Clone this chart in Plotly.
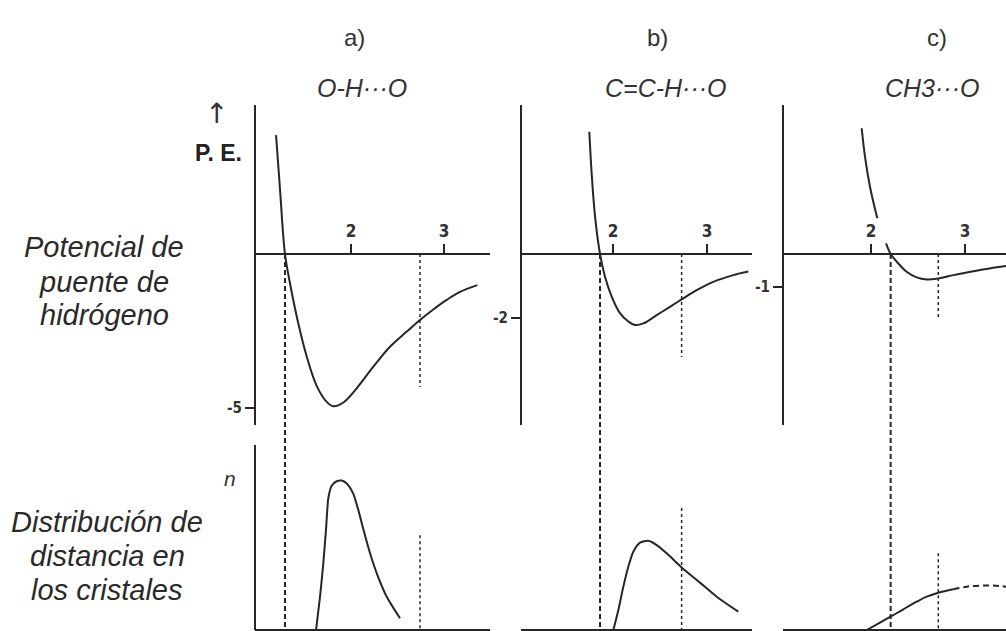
import plotly.graph_objects as go

W, H = 1006, 631

# ---------------- data (distance in Å, energy in kcal/mol, n arbitrary units) -------------
panel_letters = ["a)", "b)", "c)"]
panel_titles = ["O-H\u00b7\u00b7\u00b7O", "C=C-H\u00b7\u00b7\u00b7O", "CH3\u00b7\u00b7\u00b7O"]
xtick_vals = [2, 3]
xtick_text = ["2", "3"]
ytick_vals = [[-5], [-2], [-1]]
ytick_text = [["-5"], ["-2"], ["-1"]]

# potential curves
pot_a_r = [1.194, 1.237, 1.290, 1.344, 1.433, 1.524, 1.631, 1.739, 1.810, 1.918, 2.061,
           2.240, 2.419, 2.599, 2.742, 2.885, 3.029, 3.172, 3.358]
pot_a_e = [3.86, 2.08, 0.0, -0.95, -2.25, -3.33, -4.28, -4.80, -4.94, -4.82, -4.36,
           -3.66, -3.01, -2.52, -2.14, -1.80, -1.49, -1.23, -1.01]

pot_b_r = [1.748, 1.773, 1.809, 1.862, 1.915, 1.986, 2.074, 2.163, 2.234, 2.323, 2.465,
           2.606, 2.730, 2.890, 3.067, 3.280, 3.440]
pot_b_e = [3.82, 2.52, 1.17, 0.0, -0.71, -1.33, -1.85, -2.11, -2.22, -2.17, -1.91,
           -1.65, -1.42, -1.13, -0.87, -0.66, -0.55]

pot_c_r = [1.901, 1.936, 1.989, 2.067, None, 2.160, 2.209, 2.273, 2.379, 2.486, 2.592,
           2.716, 2.876, 3.089, 3.301, 3.436]
pot_c_e = [3.81, 2.95, 2.04, 1.08, None, 0.32, 0.0, -0.23, -0.54, -0.71, -0.77,
           -0.74, -0.64, -0.52, -0.42, -0.36]

# distance distributions in crystals
dist_a_r = [1.624, 1.667, 1.702, 1.731, 1.756, 1.792, 1.846, 1.900, 1.954, 2.025, 2.079,
            2.133, 2.204, 2.276, 2.384, 2.527]
dist_a_n = [0.0, 2.25, 4.5, 6.76, 8.9, 9.75, 10.05, 10.1, 9.9, 9.2, 8.1,
            6.8, 5.2, 3.85, 2.25, 0.79]

dist_b_r = [2.004, 2.057, 2.110, 2.163, 2.216, 2.287, 2.376, 2.465, 2.571, 2.730, 2.926,
            3.103, 3.333]
dist_b_n = [0.0, 1.35, 2.93, 4.28, 5.29, 5.9, 6.03, 5.74, 5.18, 4.23, 3.2,
            2.25, 1.24]

dist_c_r_solid = [1.954, 2.096, 2.209, 2.344, 2.486, 2.592, 2.716, 2.876]
dist_c_n_solid = [0.0, 0.5, 0.9, 1.4, 1.91, 2.25, 2.52, 2.75]
dist_c_r_dash = [2.876, 3.018, 3.160, 3.301, 3.436]
dist_c_n_dash = [2.75, 2.93, 3.0, 3.0, 2.93]

# reference distances
contact_r = [1.290, 1.862, 2.209]          # dashed: potential zero crossing
vdw_r = [2.742, 2.730, 2.716]              # dotted: van der Waals distance
vdw_top_e = [-4.32, -3.22, -1.91]          # dotted extent in potential panels
vdw_bot_n = [6.4, 8.24, 5.18]              # dotted extent in distribution panels

pot_r = [pot_a_r, pot_b_r, pot_c_r]
pot_e = [pot_a_e, pot_b_e, pot_c_e]

# ---------------- layout geometry (pixels) ----------------
def fx(px):
    return px / W

def fy(py):
    return 1 - py / H

# per panel: left axis px, right px, px of r=2, px per Å, px per energy unit
geo = [
    dict(left=255, right=490, r2=351, sx=93.0, sy=30.8),
    dict(left=521, right=752, r2=613, sx=94.0, sy=32.0),
    dict(left=783, right=1006, r2=871, sx=94.0, sy=33.0),
]
AX_Y = 254        # energy zero line
TOP_T, TOP_B = 105, 425
BOT_T, BOT_B = 445, 630
N_SCALE = 14.8    # px per n unit

INK = "#262626"
fig = go.Figure()
layout = dict(
    width=W, height=H, margin=dict(l=0, r=0, t=0, b=0),
    paper_bgcolor="white", plot_bgcolor="rgba(0,0,0,0)", showlegend=False,
)

shapes = []
annotations = []
tickfont = dict(family="Liberation Sans Narrow, DejaVu Sans Condensed", size=17, color="#333")
ytickfont = dict(family="Liberation Sans Narrow, DejaVu Sans Condensed", size=15, color="#333")

for i, g in enumerate(geo):
    xr = [2 + (g["left"] - g["r2"]) / g["sx"], 2 + (g["right"] - g["r2"]) / g["sx"]]
    yr_top = [(AX_Y - TOP_B) / g["sy"], (AX_Y - TOP_T) / g["sy"]]
    yr_bot = [0, (BOT_B - BOT_T) / N_SCALE]
    k_top = 2 * i + 1
    k_bot = 2 * i + 2
    xt = "xaxis" if k_top == 1 else f"xaxis{k_top}"
    yt = "yaxis" if k_top == 1 else f"yaxis{k_top}"
    xb = f"xaxis{k_bot}"
    yb = f"yaxis{k_bot}"
    dom_x = [fx(g["left"]), min(1.0, fx(g["right"]))]

    layout[xt] = dict(domain=dom_x, range=xr, anchor="free", position=fy(AX_Y), side="top",
                      showline=True, linewidth=2.2, linecolor=INK, ticks="outside", ticklen=9,
                      tickwidth=1.8, tickcolor=INK, tickvals=xtick_vals,
                      ticktext=[f"<b>{t}</b>" for t in xtick_text],
                      tickfont=tickfont, showgrid=False, zeroline=False, fixedrange=True)
    layout[yt] = dict(domain=[fy(TOP_B), fy(TOP_T)], range=yr_top, anchor="free",
                      position=fx(g["left"]), showline=True, linewidth=2.2, linecolor=INK,
                      ticks="outside", ticklen=9, tickwidth=1.8, tickcolor=INK,
                      tickvals=ytick_vals[i], ticktext=[f"<b>{t}</b>" for t in ytick_text[i]],
                      tickfont=ytickfont, showgrid=False, zeroline=False, fixedrange=True)
    layout[xb] = dict(domain=dom_x, range=xr, anchor="free", position=fy(BOT_B),
                      showline=True, linewidth=2.2, linecolor=INK, ticks="",
                      showticklabels=False, showgrid=False, zeroline=False, fixedrange=True)
    layout[yb] = dict(domain=[fy(BOT_B), fy(BOT_T)], range=yr_bot, anchor="free",
                      position=fx(g["left"]), showline=(i == 0), linewidth=2.2, linecolor=INK,
                      ticks="", showticklabels=False, showgrid=False, zeroline=False,
                      fixedrange=True)

    xs_t = "x" if k_top == 1 else f"x{k_top}"
    ys_t = "y" if k_top == 1 else f"y{k_top}"
    xs_b = f"x{k_bot}"
    ys_b = f"y{k_bot}"

    # potential curve
    fig.add_trace(go.Scatter(x=pot_r[i], y=pot_e[i], mode="lines", xaxis=xs_t, yaxis=ys_t,
                             line=dict(color=INK, width=2, shape="spline", smoothing=1.0),
                             connectgaps=False, hoverinfo="skip"))
    # dotted van der Waals line (top)
    fig.add_trace(go.Scatter(x=[vdw_r[i], vdw_r[i]], y=[0, vdw_top_e[i]], mode="lines",
                             xaxis=xs_t, yaxis=ys_t,
                             line=dict(color=INK, width=1.5, dash="dot"), hoverinfo="skip"))
    # dotted line (bottom)
    fig.add_trace(go.Scatter(x=[vdw_r[i], vdw_r[i]], y=[vdw_bot_n[i], 0], mode="lines",
                             xaxis=xs_b, yaxis=ys_b,
                             line=dict(color=INK, width=1.5, dash="dot"), hoverinfo="skip"))
    # dashed contact line spanning both panels
    shapes.append(dict(type="line", xref=xs_t, yref="paper", x0=contact_r[i], x1=contact_r[i],
                       y0=fy(AX_Y), y1=fy(BOT_B),
                       line=dict(color=INK, width=2, dash="5px,3px")))

    # letters and titles
    cx = [354, 657, 937][i]
    annotations.append(dict(text=panel_letters[i], x=fx(cx), y=fy(38), xref="paper",
                            yref="paper", showarrow=False, xanchor="center", yanchor="middle",
                            font=dict(family="Liberation Sans", size=24, color="#333")))
    tx = [362, 666, 932][i]
    annotations.append(dict(text=f"<i>{panel_titles[i]}</i>", x=fx(tx), y=fy(88),
                            xref="paper", yref="paper", showarrow=False, xanchor="center",
                            yanchor="middle",
                            font=dict(family="Liberation Sans", size=25, color="#333")))

# distribution curves
fig.add_trace(go.Scatter(x=dist_a_r, y=dist_a_n, mode="lines", xaxis="x2", yaxis="y2",
                         line=dict(color=INK, width=2, shape="spline", smoothing=0.6),
                         hoverinfo="skip"))
fig.add_trace(go.Scatter(x=dist_b_r, y=dist_b_n, mode="lines", xaxis="x4", yaxis="y4",
                         line=dict(color=INK, width=2, shape="spline", smoothing=0.7),
                         hoverinfo="skip"))
fig.add_trace(go.Scatter(x=dist_c_r_solid, y=dist_c_n_solid, mode="lines", xaxis="x6",
                         yaxis="y6", line=dict(color=INK, width=2, shape="spline"),
                         hoverinfo="skip"))
fig.add_trace(go.Scatter(x=dist_c_r_dash, y=dist_c_n_dash, mode="lines", xaxis="x6",
                         yaxis="y6", line=dict(color=INK, width=2, dash="6px,4px", shape="spline"),
                         hoverinfo="skip"))

# side labels
left_font = dict(family="Liberation Sans", size=29, color="#2a2a2a")
for txt, py in [("Potencial de", 247), ("puente de", 282), ("hidrógeno", 315),
                ("Distribución de", 522), ("distancia en", 556), ("los cristales", 590)]:
    cxl = 104 if py < 400 else 107
    annotations.append(dict(text=f"<i>{txt}</i>", x=fx(cxl), y=fy(py), xref="paper",
                            yref="paper", showarrow=False, xanchor="center",
                            yanchor="middle", font=left_font))

annotations.append(dict(text="\u2191", x=fx(216), y=fy(114), xref="paper", yref="paper",
                        showarrow=False, xanchor="center", yanchor="middle",
                        font=dict(family="DejaVu Sans", size=28, color="#333")))
annotations.append(dict(text="<b>P. E.</b>", x=fx(218), y=fy(153), xref="paper",
                        yref="paper", showarrow=False, xanchor="center", yanchor="middle",
                        font=dict(family="Liberation Sans", size=23, color="#222")))
annotations.append(dict(text="<i>n</i>", x=fx(230), y=fy(478), xref="paper", yref="paper",
                        showarrow=False, xanchor="center", yanchor="middle",
                        font=dict(family="Liberation Sans", size=21, color="#333")))

layout["shapes"] = shapes
layout["annotations"] = annotations
fig.update_layout(**layout)
fig.write_html("out.html", config={"displayModeBar": False, "staticPlot": True},
               post_script="document.body.style.margin='0';document.body.style.overflow='hidden';")
